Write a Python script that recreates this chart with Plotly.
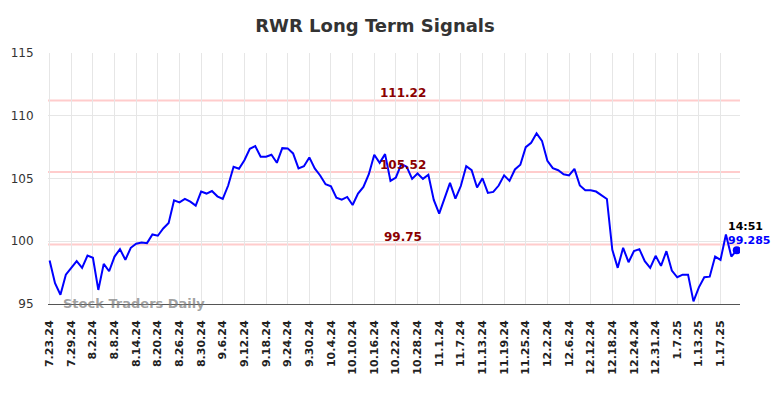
import plotly.graph_objects as go

prices = [98.46, 96.65, 95.74, 97.34, 97.88, 98.41, 97.88, 98.86, 98.68, 96.12,
          98.20, 97.61, 98.78, 99.37, 98.52, 99.48, 99.80, 99.90, 99.85, 100.54,
          100.44, 101.02, 101.45, 103.26, 103.10, 103.37, 103.16, 102.84, 103.96, 103.80,
          104.00, 103.58, 103.37, 104.44, 105.93, 105.78, 106.46, 107.37, 107.58, 106.73,
          106.73, 106.89, 106.25, 107.42, 107.40, 107.00, 105.80, 105.98, 106.68, 105.80,
          105.24, 104.54, 104.38, 103.48, 103.32, 103.53, 102.89, 103.80, 104.33, 105.34,
          106.89, 106.25, 106.94, 104.81, 105.08, 106.14, 105.93, 104.97, 105.40, 104.97,
          105.30, 103.30, 102.20, 103.38, 104.65, 103.40, 104.40, 105.98, 105.66, 104.28,
          105.02, 103.85, 103.93, 104.44, 105.25, 104.81, 105.72, 106.10, 107.50, 107.85,
          108.60, 108.00, 106.41, 105.82, 105.66, 105.34, 105.24, 105.77, 104.44, 104.06,
          104.06, 103.96, 103.64, 103.37, 99.32, 97.88, 99.48, 98.33, 99.21, 99.37,
          98.41, 97.88, 98.84, 98.04, 99.21, 97.66, 97.13, 97.34, 97.34, 95.21,
          96.33, 97.13, 97.18, 98.78, 98.52, 100.54, 98.78, 99.285]

tick_labels = ["7.23.24", "7.29.24", "8.2.24", "8.8.24", "8.14.24", "8.20.24", "8.26.24",
               "8.30.24", "9.6.24", "9.12.24", "9.18.24", "9.24.24", "9.30.24", "10.4.24",
               "10.10.24", "10.16.24", "10.22.24", "10.28.24", "11.1.24", "11.7.24",
               "11.13.24", "11.19.24", "11.25.24", "12.2.24", "12.6.24", "12.12.24",
               "12.18.24", "12.24.24", "12.31.24", "1.7.25", "1.13.25", "1.17.25"]
tick_step = 4

levels = [111.22, 105.52, 99.75]
last_time = "14:51"

x = list(range(len(prices)))
tickvals = [i * tick_step for i in range(len(tick_labels))]

W, H = 776, 390  # page body has an 8px margin

fig = go.Figure()
fig.add_trace(go.Scatter(x=x, y=prices, mode="lines",
                         line=dict(color="#0000ff", width=2), hoverinfo="skip"))
fig.add_trace(go.Scatter(x=[x[-1]], y=[prices[-1]], mode="markers",
                         marker=dict(color="#0000ff", size=8), hoverinfo="skip"))

for lv in levels:
    fig.add_shape(type="line", xref="paper", x0=0, x1=1, y0=lv, y1=lv,
                  line=dict(color="#ffcccc", width=2), layer="below")
    fig.add_annotation(xref="paper", x=0.513, xanchor="center", y=lv, yanchor="bottom",
                       yshift=-2, text=f"<b>{lv:.2f}</b>", showarrow=False,
                       font=dict(family="DejaVu Sans", size=12, color="#8b0000"))

fig.add_annotation(x=x[-1], y=prices[-1], text=f"<b>{last_time}</b>", showarrow=False,
                   xshift=9, yshift=24, font=dict(family="DejaVu Sans", size=11, color="#000000"))
fig.add_annotation(x=x[-1], y=prices[-1], text=f"<b>{prices[-1]}</b>", showarrow=False,
                   xshift=12, yshift=10, font=dict(family="DejaVu Sans", size=11, color="#0000ff"))

fig.add_annotation(xref="paper", yref="y", x=0.124, xanchor="center", y=95,
                   text="<b>Stock Traders Daily</b>", showarrow=False, yshift=1,
                   font=dict(family="DejaVu Sans", size=13, color="rgba(120,120,120,0.7)"))

fig.update_layout(
    width=W, height=H,
    margin=dict(l=40, r=44, t=45, b=94, autoexpand=False),
    paper_bgcolor="white", plot_bgcolor="white",
    showlegend=False,
    title=dict(text="<b>RWR Long Term Signals</b>", x=367 / W, xref="container",
               xanchor="center", y=1 - 18 / H, yanchor="middle",
               font=dict(family="DejaVu Sans", size=18, color="#333333")),
    xaxis=dict(range=[-0.3, 127.6], tickvals=tickvals,
               ticktext=[f"<b>{t}</b>" for t in tick_labels],
               tickangle=-90, showgrid=True, gridcolor="#e6e6e6", gridwidth=1,
               zeroline=False, showline=True, linecolor="#555555", linewidth=1,
               ticks="outside", ticklen=11, tickcolor="rgba(0,0,0,0)",
               tickfont=dict(family="DejaVu Sans", size=11, color="#222222"),
               automargin=False, fixedrange=True),
    yaxis=dict(range=[95, 115], tickvals=[95, 100, 105, 110, 115],
               showgrid=True, gridcolor="#e6e6e6", gridwidth=1, zeroline=False,
               showline=False, ticks="outside", ticklen=11, tickcolor="rgba(0,0,0,0)",
               tickfont=dict(family="DejaVu Sans", size=12, color="#333333"),
               automargin=False, fixedrange=True),
)

fig.write_html("out.html")
